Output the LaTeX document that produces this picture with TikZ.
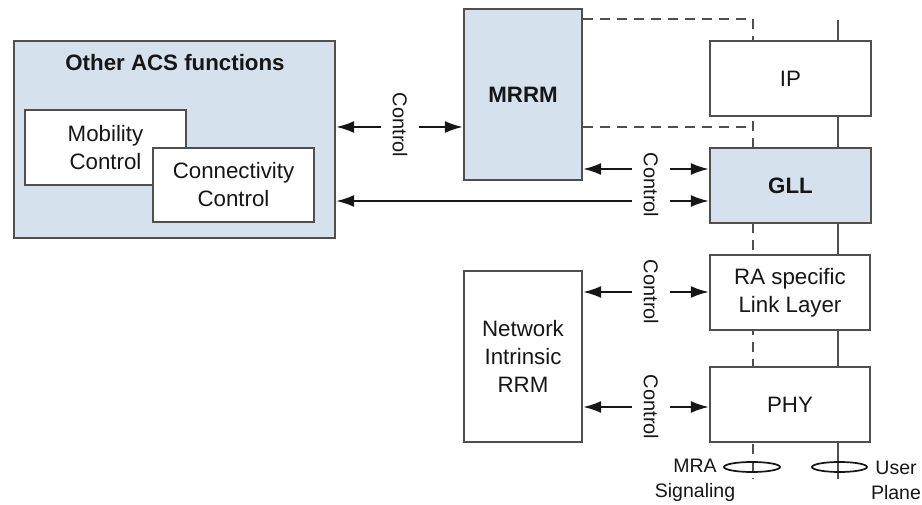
\documentclass[tikz,border=0pt]{standalone}
\usepackage{fontspec}
\setmainfont{Liberation Sans}
\usetikzlibrary{arrows.meta,shapes.geometric}
\definecolor{boxblue}{HTML}{D5E2ED}
\definecolor{edgegray}{HTML}{4F4F4F}
\definecolor{inkdark}{HTML}{161616}
\newcommand\lblfont{\fontsize{22.3}{28}\selectfont}
\newcommand\ctlfont{\fontsize{20}{23}\selectfont}
\newcommand\notefont{\fontsize{19.5}{25}\selectfont}
\begin{document}
\begin{tikzpicture}[x=1pt,y=-1pt,
  box/.style={draw=edgegray, line width=2.3pt, fill=white, text=inkdark,
    font=\lblfont, align=center, inner sep=0pt},
  bluebox/.style={box, fill=boxblue},
  ctl/.style={font=\ctlfont, text=inkdark, rotate=-90, inner sep=0pt},
  arr/.style={-{Latex[length=18pt,width=12pt]}, line width=2pt, draw=inkdark},
  sigline/.style={draw=edgegray, line width=2.6pt, dash pattern=on 10pt off 7pt},
  upline/.style={draw=edgegray, line width=2.3pt},
  ring/.style={ellipse, draw=inkdark, line width=1.7pt, inner sep=0pt},
  note/.style={font=\notefont, text=inkdark, align=center, inner sep=0pt}]
\useasboundingbox (0,0) rectangle (922,505);

% signalling (dashed) and user plane (solid) columns
\coordinate (sigtop) at (753,19);
\coordinate (sigbot) at (753,479);
\coordinate (uptop) at (838,20);
\coordinate (upbot) at (838,479);
\draw[upline] (uptop) -- (upbot);

% access control functions
\node[bluebox, minimum width=321pt, minimum height=197pt] (acs) at (174.5,139.5) {};
\node[box, draw=none, fill=none, font=\lblfont\bfseries] (acstitle) at (175,63) {Other ACS functions};
\node[box, minimum width=161pt, minimum height=75pt] (mob) at (105.5,147.5) {Mobility\\Control};
\node[box, minimum width=161pt, minimum height=74pt] (conn) at (233.5,185) {Connectivity\\Control};

% resource managers
\node[bluebox, font=\lblfont\bfseries, minimum width=118pt, minimum height=171pt] (mrrm) at (523,94.5) {MRRM};
\node[box, minimum width=118pt, minimum height=171pt] (nrrm) at (523,356.5) {Network\\Intrinsic\\RRM};

% dashed signalling from MRRM into the stack
\draw[sigline] (mrrm.east |- sigtop) -- (sigtop) -- (sigbot);
\draw[sigline] (mrrm.east |- 0,127) -- (753,127);

% protocol stack
\node[box, minimum width=161pt, minimum height=75pt] (ip) at (790.5,78.5) {IP};
\node[bluebox, font=\lblfont\bfseries, minimum width=161pt, minimum height=75pt] (gll) at (790.5,185.5) {GLL};
\node[box, minimum width=160pt, minimum height=75pt] (ra) at (790,292.5) {RA specific\\Link Layer};
\node[box, minimum width=160pt, minimum height=75pt] (phy) at (790,404.5) {PHY};

% control interfaces
\node[ctl] (ctla) at (400,125) {Control};
\draw[arr] ([xshift=-19pt,yshift=-2pt]ctla.center) -- (acs.east |- 0,127);
\draw[arr] ([xshift=19pt,yshift=-2pt]ctla.center) -- (mrrm.west |- 0,127);

\node[ctl] (ctlg) at (651,185) {Control};
\coordinate (ga) at ([yshift=16pt]ctlg.center);
\coordinate (gb) at ([yshift=-16pt]ctlg.center);
\draw[arr] ([xshift=-19pt]ga) -- (ga -| mrrm.east);
\draw[arr] ([xshift=19pt]ga) -- (ga -| gll.west);
\draw[arr] ([xshift=-19pt]gb) -- (gb -| acs.east);
\draw[arr] ([xshift=19pt]gb) -- (gb -| gll.west);

\node[ctl] (ctlr) at (651,292) {Control};
\draw[arr] ([xshift=-19pt]ctlr.center) -- (ctlr.center -| nrrm.east);
\draw[arr] ([xshift=19pt]ctlr.center) -- (ctlr.center -| ra.west);

\node[ctl] (ctlp) at (651,407) {Control};
\draw[arr] ([xshift=-19pt]ctlp.center) -- (ctlp.center -| nrrm.east);
\draw[arr] ([xshift=19pt]ctlp.center) -- (ctlp.center -| phy.west);

% plane markers
\node[ring, minimum width=56pt, minimum height=10pt] (sigring) at (752,467) {};
\node[ring, minimum width=55pt, minimum height=10pt] (upring) at (839.5,467) {};
\node[note] (siglbl) at (695,480) {MRA\\Signaling};
\node[note] (uplbl) at (896,480) {User\\Plane};
\end{tikzpicture}
\end{document}
